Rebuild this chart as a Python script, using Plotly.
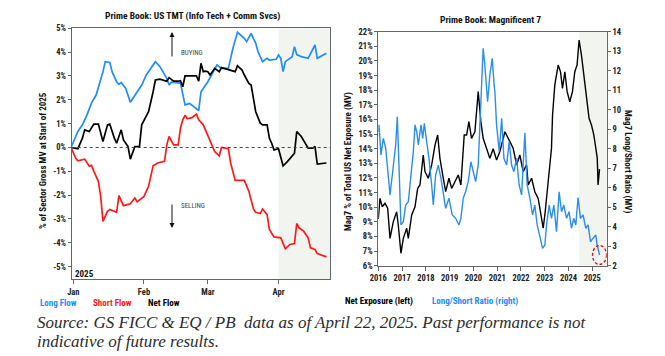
import plotly.graph_objects as go

W, H = 665, 356

# ---------------- data: left panel (US TMT flows, % of sector gross MV) ----------------
month_ticks = ["2025-01-01", "2025-02-01", "2025-03-01", "2025-04-01"]
month_labels = ["Jan", "Feb", "Mar", "Apr"]

long_dates = ["2024-12-31","2025-01-03","2025-01-05","2025-01-07","2025-01-09","2025-01-11","2025-01-14","2025-01-15",
              "2025-01-17","2025-01-18","2025-01-20","2025-01-21","2025-01-22","2025-01-24","2025-01-26","2025-01-28",
              "2025-01-31","2025-02-02","2025-02-06","2025-02-08","2025-02-11","2025-02-12","2025-02-13","2025-02-17",
              "2025-02-19","2025-02-21","2025-02-23","2025-02-25","2025-02-26","2025-03-01","2025-03-05","2025-03-07",
              "2025-03-10","2025-03-12","2025-03-14","2025-03-17","2025-03-18","2025-03-20","2025-03-22","2025-03-23",
              "2025-03-25","2025-03-27","2025-03-28","2025-03-31","2025-04-01","2025-04-02","2025-04-03","2025-04-04",
              "2025-04-07","2025-04-08","2025-04-09","2025-04-11","2025-04-14","2025-04-16","2025-04-17","2025-04-18",
              "2025-04-20","2025-04-22"]
long_vals = [0.0,0.67,0.95,1.37,1.87,2.2,3.18,3.6,3.57,3.18,2.76,2.65,2.73,2.48,1.9,2.2,2.62,3.04,3.6,3.39,2.9,2.62,
             2.74,2.7,1.79,1.85,1.7,1.55,2.34,2.76,3.46,3.32,3.32,4.16,4.83,4.58,4.44,4.79,4.37,4.02,3.6,3.74,3.67,
             3.7,3.88,3.74,3.18,3.6,3.81,4.23,3.9,3.81,3.74,4.13,4.3,3.74,3.85,3.95]

short_dates = ["2024-12-31","2025-01-02","2025-01-03","2025-01-06","2025-01-08","2025-01-09","2025-01-10","2025-01-12",
               "2025-01-13","2025-01-14","2025-01-16","2025-01-17","2025-01-20","2025-01-21","2025-01-23","2025-01-26",
               "2025-01-28","2025-01-29","2025-02-01","2025-02-03","2025-02-05","2025-02-07","2025-02-10","2025-02-11",
               "2025-02-12","2025-02-14","2025-02-16","2025-02-17","2025-02-18","2025-02-19","2025-02-20","2025-02-22",
               "2025-02-24","2025-02-25","2025-02-27","2025-03-01","2025-03-03","2025-03-04","2025-03-06","2025-03-07",
               "2025-03-10","2025-03-11","2025-03-13","2025-03-17","2025-03-19","2025-03-21","2025-03-22","2025-03-24",
               "2025-03-25","2025-03-27","2025-03-28","2025-03-30","2025-04-02","2025-04-04","2025-04-06","2025-04-08",
               "2025-04-09","2025-04-10","2025-04-12","2025-04-14","2025-04-15","2025-04-17","2025-04-18","2025-04-20",
               "2025-04-22"]
short_vals = [0.0,-0.44,-0.56,-0.49,-0.79,-0.75,-1.0,-1.42,-2.05,-3.1,-2.68,-2.6,-2.72,-2.02,-2.44,-2.36,-2.12,-2.28,
              -2.05,-1.63,-0.77,-0.65,-0.58,0.11,0.46,0.11,0.11,0.81,1.16,1.35,1.2,1.25,1.4,1.16,0.95,0.53,0.08,-0.17,
              -0.35,0.0,-0.05,-0.65,-1.38,-1.38,-1.84,-2.58,-2.72,-2.77,-2.58,-2.82,-3.44,-3.75,-3.79,-4.25,-4.07,-4.03,
              -3.19,-3.37,-3.51,-3.79,-4.21,-4.28,-4.45,-4.53,-4.59]

net_dates = ["2024-12-31","2025-01-03","2025-01-05","2025-01-06","2025-01-08","2025-01-10","2025-01-12","2025-01-14",
             "2025-01-16","2025-01-17","2025-01-19","2025-01-20","2025-01-22","2025-01-23","2025-01-25","2025-01-26",
             "2025-01-28","2025-01-30","2025-01-31","2025-02-03","2025-02-05","2025-02-06","2025-02-08","2025-02-11",
             "2025-02-12","2025-02-14","2025-02-16","2025-02-17","2025-02-18","2025-02-19","2025-02-22","2025-02-24",
             "2025-02-25","2025-02-26","2025-02-27","2025-02-28","2025-03-01","2025-03-02","2025-03-04","2025-03-06",
             "2025-03-07","2025-03-09","2025-03-11","2025-03-13","2025-03-14","2025-03-16","2025-03-17","2025-03-19",
             "2025-03-20","2025-03-21","2025-03-22","2025-03-24","2025-03-25","2025-03-27","2025-03-28","2025-03-29",
             "2025-03-30","2025-04-01","2025-04-03","2025-04-05","2025-04-08","2025-04-09","2025-04-11","2025-04-14",
             "2025-04-16","2025-04-17","2025-04-18","2025-04-22"]
net_vals = [0.0,-0.05,0.39,0.74,0.67,0.98,0.98,0.25,0.95,0.98,0.39,0.18,0.74,0.32,0.04,-0.49,0.04,0.04,0.95,1.5,2.34,
            2.83,2.87,2.78,2.93,2.78,2.78,2.8,2.55,3.0,3.0,3.0,2.78,3.53,3.18,3.2,3.18,3.04,3.32,3.18,3.35,3.3,3.23,
            3.18,3.43,3.25,3.04,2.69,2.62,2.0,1.5,1.02,0.95,0.95,0.39,0.18,-0.1,-0.05,-0.77,-0.58,-0.24,0.67,0.46,
            -0.03,-0.03,0.05,-0.7,-0.65]

left_yticks = [5, 4, 3, 2, 1, 0, -1, -2, -3, -4, -5]
left_ylabels = [f"{v}%" for v in left_yticks]

# ---------------- data: right panel (Magnificent 7) ----------------
year_ticks = [f"{y}-01-01" for y in range(2016, 2026)]
year_labels = [str(y) for y in range(2016, 2026)]

mag_net_dates = ["2016-01-01","2016-01-27","2016-03-02","2016-04-13","2016-05-24","2016-06-29","2016-08-18","2016-10-09",
                 "2016-11-03","2016-12-14","2017-01-19","2017-03-12","2017-04-06","2017-05-28","2017-07-18","2017-08-28",
                 "2017-10-02","2017-11-22","2017-12-18","2018-02-07","2018-03-31","2018-05-21","2018-07-01","2018-08-05",
                 "2018-09-25","2018-11-01","2018-12-21","2019-02-01","2019-03-23","2019-05-13","2019-06-23","2019-08-13",
                 "2019-09-19","2019-10-24","2019-12-04","2020-01-24","2020-03-15","2020-04-25","2020-05-30","2020-07-22",
                 "2020-09-10","2020-10-31","2020-12-22","2021-02-11","2021-04-29","2021-07-15","2021-09-03","2021-10-26",
                 "2021-12-15","2022-02-04","2022-03-28","2022-04-22","2022-06-13","2022-08-02","2022-09-22","2022-11-13",
                 "2022-12-08","2023-01-03","2023-02-07","2023-03-20","2023-04-15","2023-05-01","2023-06-05","2023-07-26",
                 "2023-08-31","2023-10-01","2023-11-06","2023-12-11","2024-01-21","2024-03-02","2024-04-07","2024-05-12",
                 "2024-06-12","2024-07-18","2024-08-27","2024-10-03","2024-11-12","2024-12-19","2025-01-24","2025-02-24",
                 "2025-03-18","2025-03-30","2025-04-22"]
mag_net_vals = [9.2,10.6,10.03,10.27,9.93,7.87,9.0,9.69,8.78,6.85,7.87,8.56,7.87,9.47,10.03,11.29,11.52,13.57,12.43,
                11.98,12.89,14.25,14.94,13.34,11.98,11.06,11.98,11.29,11.74,12.2,11.52,14.94,14.94,15.85,14.71,15.16,
                17.9,15.85,14.71,14.03,13.34,14.0,13.23,13.8,15.16,14.48,14.03,12.89,13.57,12.43,12.89,11.52,11.98,
                11.06,10.6,9.24,8.56,9.47,11.06,13.34,14.03,16.3,18.36,19.72,19.26,18.13,19.26,17.9,17.21,17.9,19.26,
                19.72,21.43,20.4,18.81,17.21,16.08,15.62,14.94,14.03,13.34,11.52,12.6]

mag_ratio_dates = ["2016-01-01","2016-01-12","2016-02-11","2016-03-18","2016-04-24","2016-06-02","2016-06-29","2016-08-03",
                   "2016-09-03","2016-09-24","2016-10-19","2016-11-14","2016-12-14","2017-01-19","2017-02-25","2017-04-06",
                   "2017-05-18","2017-06-22","2017-07-18","2017-08-13","2017-09-07","2017-10-18","2017-11-13","2017-12-08",
                   "2018-01-13","2018-02-17","2018-03-31","2018-04-25","2018-05-31","2018-07-10","2018-08-21","2018-09-25",
                   "2018-11-01","2018-12-21","2019-02-10","2019-04-03","2019-05-24","2019-06-23","2019-07-29","2019-09-03",
                   "2019-10-14","2019-11-24","2019-12-29","2020-02-04","2020-03-15","2020-04-10","2020-05-06","2020-05-30",
                   "2020-06-25","2020-08-06","2020-09-10","2020-10-16","2020-11-15","2020-11-26","2020-12-22","2021-02-01",
                   "2021-03-10","2021-04-14","2021-05-25","2021-07-04","2021-08-10","2021-09-14","2021-10-26","2021-12-04",
                   "2022-01-10","2022-03-02","2022-04-06","2022-05-18","2022-06-28","2022-08-02","2022-09-07","2022-10-18",
                   "2022-11-29","2023-01-03","2023-01-29","2023-03-10","2023-04-15","2023-05-21","2023-07-01","2023-08-10",
                   "2023-09-16","2023-10-21","2023-12-02","2024-01-10","2024-02-16","2024-03-22","2024-04-22","2024-05-27",
                   "2024-07-03","2024-08-12","2024-09-23","2024-10-28","2024-12-04","2025-01-13","2025-02-24","2025-03-16",
                   "2025-04-15","2025-04-22"]
mag_ratio_vals = [8.87,9.22,7.68,8.53,8.02,6.65,5.63,6.65,7.51,8.19,9.64,6.65,4.09,4.26,5.11,5.28,6.65,7.85,9.22,8.87,
                  8.19,9.22,8.53,9.3,8.36,7.51,6.14,5.11,6.65,7.16,6.48,5.63,4.94,5.46,4.6,4.43,4.09,4.43,5.46,5.79,
                  6.31,7.33,6.82,6.31,7.16,9.56,11.78,13.15,12.29,10.41,11.78,12.63,11.27,10.92,9.22,7.85,9.56,7.51,
                  7.16,8.36,7.16,6.82,7.51,6.14,5.63,8.8,6.14,5.46,4.6,5.11,4.09,3.41,2.89,3.06,4.09,5.11,4.43,5.11,
                  3.74,5.79,4.77,5.11,4.43,4.77,3.92,4.43,4.09,5.49,4.43,4.6,3.92,4.09,3.23,3.41,3.57,3.06,2.6,2.55]

# ---------------- styling helpers ----------------
# the page body adds an 8px margin, so positions are shifted back by that amount
OFF = 8

def P(x):
    return (x - OFF) / W

def Q(y):
    return 1 - (y - OFF) / H

COND = "Roboto Condensed, Liberation Sans Narrow, DejaVu Sans Condensed, Roboto, Arial, sans-serif"
BLUE = "#1f8cff"
RED = "#ff1a1a"
BLACK = "#000000"
SHADE = "#f2f4f0"
AX = "#666666"
tickfont = dict(family=COND, size=8.5, color="#222222", weight="bold")

fig = go.Figure()

fig.add_trace(go.Scatter(x=long_dates, y=long_vals, mode="lines", line=dict(color=BLUE, width=1.7),
                         xaxis="x", yaxis="y", showlegend=False))
fig.add_trace(go.Scatter(x=short_dates, y=short_vals, mode="lines", line=dict(color=RED, width=1.7),
                         xaxis="x", yaxis="y", showlegend=False))
fig.add_trace(go.Scatter(x=net_dates, y=net_vals, mode="lines", line=dict(color=BLACK, width=1.7),
                         xaxis="x", yaxis="y", showlegend=False))

fig.add_trace(go.Scatter(x=mag_net_dates, y=mag_net_vals, mode="lines", line=dict(color=BLACK, width=1.4),
                         xaxis="x2", yaxis="y2", showlegend=False))
fig.add_trace(go.Scatter(x=mag_ratio_dates, y=mag_ratio_vals, mode="lines", line=dict(color="#2a8df0", width=1.4),
                         xaxis="x2", yaxis="y3", showlegend=False))

left_range = ["2024-12-31 07:00", "2025-04-23 14:00"]
right_range = ["2016-01-01", "2025-08-10"]

common_x = dict(type="date", showgrid=False, zeroline=False, showline=True, linecolor=AX, linewidth=1,
                ticks="outside", ticklen=4, tickcolor=AX, tickfont=tickfont, automargin=False)
common_y = dict(showgrid=False, zeroline=False, showline=True, linecolor=AX, linewidth=1,
                ticks="outside", ticklen=3, tickcolor=AX, tickfont=tickfont, automargin=False)

fig.update_layout(
    width=W, height=H, autosize=False,
    margin=dict(l=0, r=0, t=0, b=0, pad=0, autoexpand=False),
    paper_bgcolor="white", plot_bgcolor="white",
    showlegend=False,
    xaxis=dict(common_x, domain=[P(71.7), P(330)], range=left_range, anchor="y",
               tickvals=month_ticks, ticktext=month_labels, mirror=True),
    yaxis=dict(common_y, domain=[Q(279.3), Q(28.3)], range=[-5.53, 5], anchor="x",
               tickvals=left_yticks, ticktext=left_ylabels, mirror=True),
    xaxis2=dict(common_x, domain=[P(378.3), P(606.7)], range=right_range, anchor="y2",
                tickvals=year_ticks, ticktext=year_labels, mirror=True),
    yaxis2=dict(common_y, domain=[Q(265.7), Q(31.7)], range=[6, 22], anchor="x2", side="left",
                dtick=1, tick0=6, ticksuffix="%"),
    yaxis3=dict(common_y, range=[2, 14], anchor="x2", overlaying="y2", side="right", dtick=1, tick0=2),
)

shapes = [
    dict(type="rect", xref="x", yref="y domain", x0="2025-04-01", x1=left_range[1], y0=0, y1=1,
         fillcolor=SHADE, line=dict(width=0), layer="below"),
    dict(type="rect", xref="x2", yref="y2 domain", x0="2024-06-12", x1=right_range[1], y0=0, y1=1,
         fillcolor=SHADE, line=dict(width=0), layer="below"),
    dict(type="line", xref="x domain", yref="y", x0=0, x1=1, y0=0, y1=0,
         line=dict(color="#444444", width=1, dash="dot")),
    # dashed circle highlighting the latest long/short ratio reading
    dict(type="circle", xref="x2", yref="y3", xsizemode="pixel", ysizemode="pixel",
         xanchor=mag_ratio_dates[-1], yanchor=mag_ratio_vals[-1], x0=-7, x1=7, y0=-9.5, y1=9.5,
         line=dict(color="#d01010", width=1.3, dash="3px,2px")),
]
fig.update_layout(shapes=shapes)

def label(x, y, text, size=9, color="#111111", xanchor="left", angle=0, family=COND):
    return dict(x=P(x), y=Q(y), xref="paper", yref="paper", text=text, showarrow=False,
                xanchor=xanchor, yanchor="middle", textangle=angle,
                font=dict(family=family, size=size, color=color))

ann = [
    label(192, 16, "<b>Prime Book: US TMT (Info Tech + Comm Svcs)</b>", size=9.5, xanchor="center"),
    label(490, 19, "<b>Prime Book: Magnificent 7</b>", size=9.5, xanchor="center"),
    label(43, 161, "<b>% of Sector Gross MV at Start of 2025</b>", size=9, xanchor="center", angle=-90),
    label(348, 162, "<b>Mag7 % of Total US Net Exposure (MV)</b>", size=9, xanchor="center", angle=-90),
    label(628, 162, "<b>Mag7 Long/Short Ratio (MV)</b>", size=9, xanchor="center", angle=90),
    label(73, 274, "<b>2025</b>", size=9),
    label(179, 53, "BUYING", size=7, color="#444444"),
    label(179, 206, "SELLING", size=7, color="#444444"),
    label(38, 303, "<b>Long Flow</b>", size=9, color=BLUE),
    label(91, 303, "<b>Short Flow</b>", size=9, color=RED),
    label(146, 303, "<b>Net Flow</b>", size=9, color=BLACK),
    label(343, 301, "<b>Net Exposure (left)</b>", size=9, color=BLACK),
    label(430, 301, "<b>Long/Short Ratio (right)</b>", size=9, color=BLUE),
    label(35, 322, "<i>Source: GS FICC &amp; EQ / PB\u00a0 data as of April 22, 2025. Past performance is not</i>",
          size=17, color="#2b2b2b", family="Liberation Serif, Times New Roman, serif"),
    label(35, 341, "<i>indicative of future results.</i>",
          size=17, color="#2b2b2b", family="Liberation Serif, Times New Roman, serif"),
    dict(x=P(172), y=Q(32), xref="paper", yref="paper", text="", showarrow=True, ax=0, ay=26,
         arrowhead=2, arrowsize=1, arrowwidth=1, arrowcolor="#111111"),
    dict(x=P(172), y=Q(228), xref="paper", yref="paper", text="", showarrow=True, ax=0, ay=-25,
         arrowhead=2, arrowsize=1, arrowwidth=1, arrowcolor="#111111"),
]
fig.update_layout(annotations=ann)

fig.write_html("out.html")
